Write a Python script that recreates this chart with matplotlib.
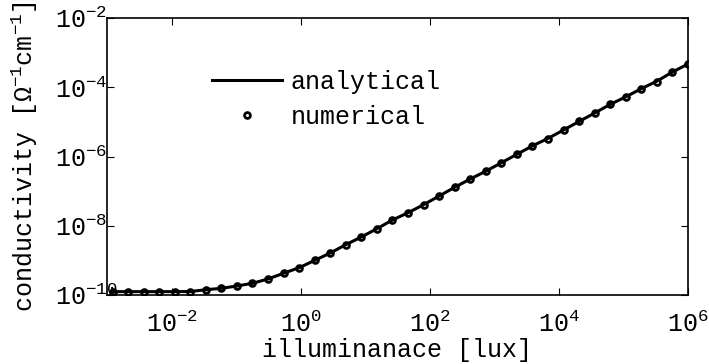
import matplotlib
matplotlib.use("Agg")
import matplotlib.pyplot as plt
from matplotlib.ticker import NullLocator

plt.rcParams['font.family'] = ['Liberation Mono', 'DejaVu Sans']
plt.rcParams['mathtext.fontset'] = 'custom'
plt.rcParams['mathtext.rm'] = 'Liberation Mono'
plt.rcParams['mathtext.it'] = 'Liberation Mono:italic'
plt.rcParams['mathtext.bf'] = 'Liberation Mono:bold'

# illuminance [lux]
illuminance = [0.00122, 0.00212, 0.00369, 0.00643, 0.0112, 0.0195, 0.0340, 0.0592,
               0.103, 0.179, 0.312, 0.543, 0.946, 1.65, 2.87, 5.00, 8.71, 15.2,
               26.4, 46.0, 80.2, 140, 243, 424, 738, 1290, 2240, 3900, 6790,
               11800, 20600, 35800, 62400, 109000, 189000, 330000, 574000, 1000000]
# conductivity [1/(Ohm cm)]
analytical = [1.25e-10, 1.25e-10, 1.25e-10, 1.25e-10, 1.25e-10, 1.26e-10, 1.42e-10, 1.56e-10,
              1.82e-10, 2.18e-10, 2.90e-10, 4.24e-10, 6.14e-10, 1.00e-9, 1.63e-9, 2.84e-9,
              4.73e-9, 8.22e-9, 1.47e-8, 2.37e-8, 4.06e-8, 7.23e-8, 1.29e-7, 2.24e-7,
              3.76e-7, 6.62e-7, 1.16e-6, 2.03e-6, 3.33e-6, 5.82e-6, 1.03e-5, 1.80e-5,
              3.20e-5, 5.30e-5, 9.08e-5, 1.50e-4, 2.75e-4, 4.69e-4]
numerical = [1.25e-10, 1.25e-10, 1.25e-10, 1.25e-10, 1.25e-10, 1.25e-10, 1.42e-10, 1.56e-10,
             1.82e-10, 2.18e-10, 2.90e-10, 4.24e-10, 6.14e-10, 1.00e-9, 1.63e-9, 2.84e-9,
             4.73e-9, 8.22e-9, 1.47e-8, 2.33e-8, 4.06e-8, 7.23e-8, 1.29e-7, 2.24e-7,
             3.74e-7, 6.62e-7, 1.16e-6, 2.05e-6, 3.27e-6, 5.82e-6, 1.04e-5, 1.80e-5,
             3.22e-5, 5.22e-5, 9.08e-5, 1.45e-4, 2.81e-4, 4.69e-4]

xticks = [1e-2, 1e0, 1e2, 1e4, 1e6]
yticks = [1e-10, 1e-8, 1e-6, 1e-4, 1e-2]

FS = 18
fig = plt.figure(figsize=(7.09, 3.64), dpi=100)
ax = fig.add_axes([107/709, 1-295/364, 581/709, 277/364])

ax.plot(illuminance, analytical, '-', color='black', lw=2.2, label='analytical')
ax.plot(illuminance, numerical, 'o', color='black', mfc='none', mec='black',
        ms=4.2, mew=2.0, label='numerical')

ax.set_xscale('log')
ax.set_yscale('log')
ax.set_xlim(1e-3, 1e6)
ax.set_ylim(1e-10, 1e-2)
ax.set_xticks(xticks)
ax.set_yticks(yticks)
ax.xaxis.set_minor_locator(NullLocator())
ax.yaxis.set_minor_locator(NullLocator())

ax.tick_params(which='major', direction='in', length=5, width=0.8,
               top=True, right=True, labelsize=FS)
ax.tick_params(axis='x', pad=12)
ax.tick_params(axis='y', pad=37.4)
for lbl in ax.get_yticklabels():
    lbl.set_horizontalalignment('left')
for s in ax.spines.values():
    s.set_linewidth(1.2)

ax.set_xlabel('illuminanace [lux]', fontsize=FS, labelpad=0.5)
ax.set_ylabel(r'conductivity [$\Omega^{-1}$cm$^{-1}$]', fontsize=FS)
ax.yaxis.set_label_coords(-0.116, 0.5)

leg = ax.legend(loc='center left', bbox_to_anchor=(0.181, 0.706), frameon=False,
                fontsize=FS, handlelength=2.8, handletextpad=0.33, labelspacing=0.45,
                borderpad=0, borderaxespad=0)

fig.savefig('out.png', dpi=100)
